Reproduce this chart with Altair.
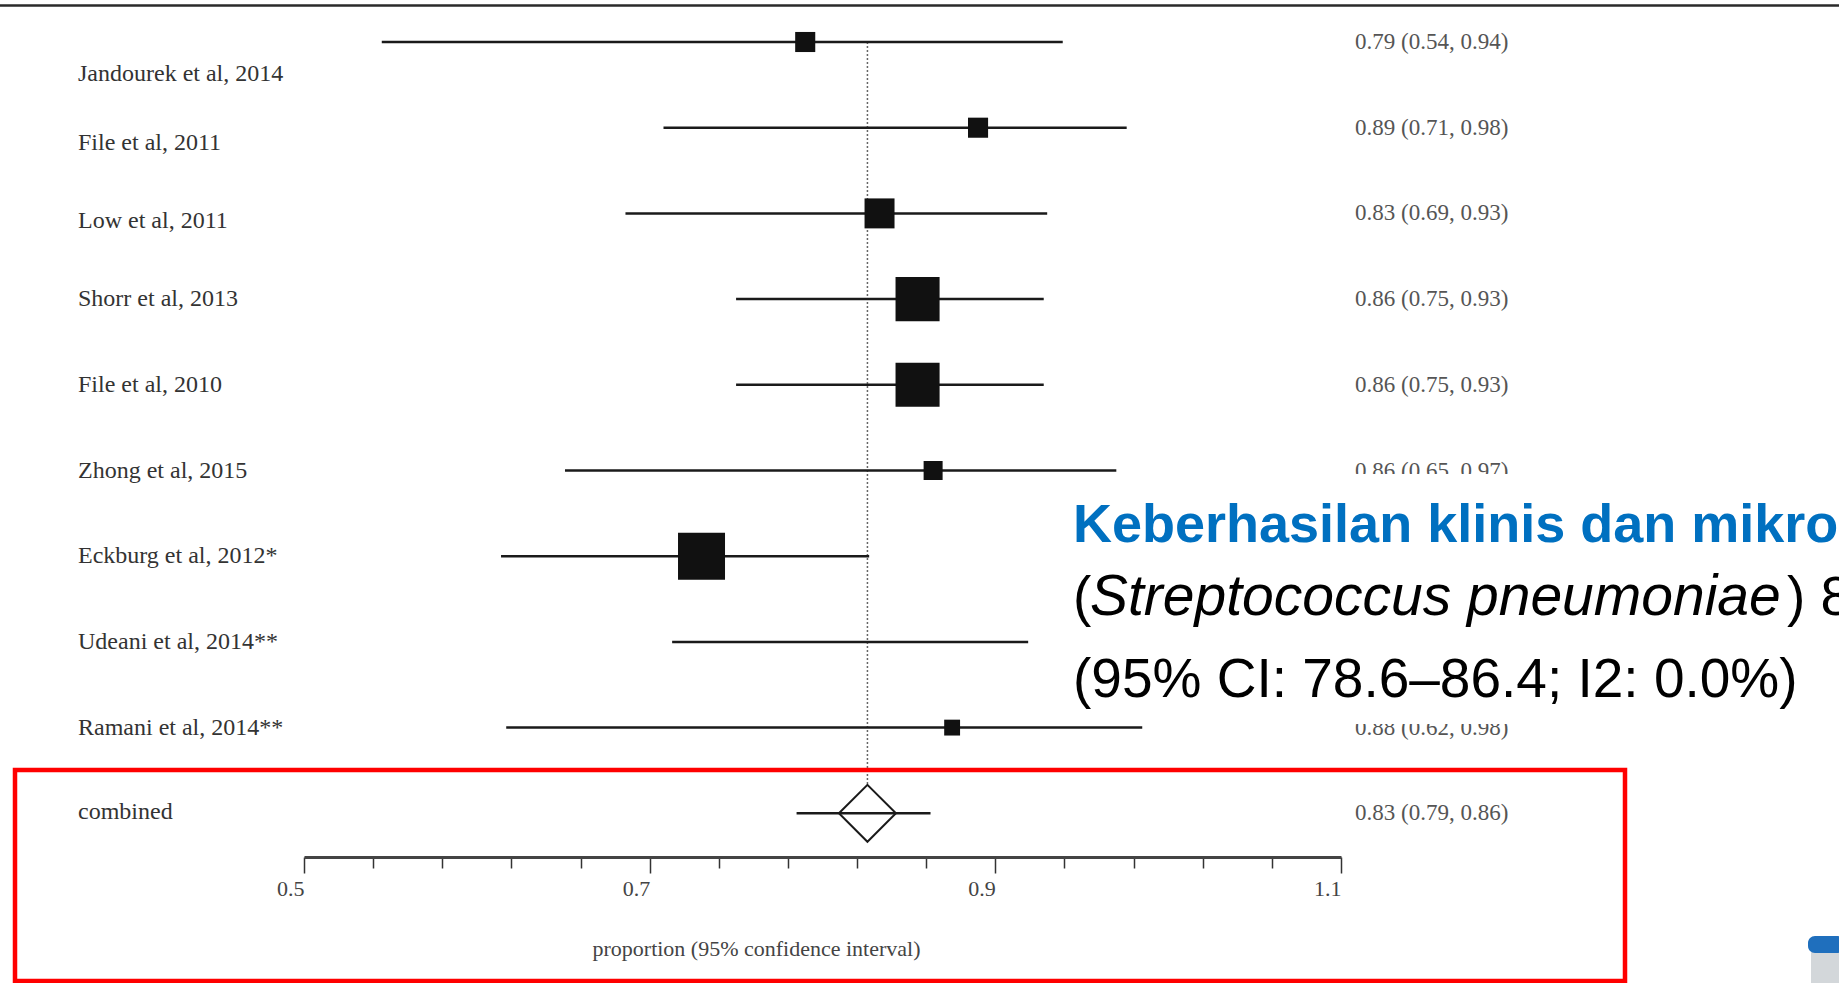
import altair as alt
import pandas as pd

# ---------------- data ----------------
studies = ["Jandourek et al, 2014", "File et al, 2011", "Low et al, 2011",
           "Shorr et al, 2013", "File et al, 2010", "Zhong et al, 2015",
           "Eckburg et al, 2012*", "Udeani et al, 2014**", "Ramani et al, 2014**",
           "combined"]
estimate = [0.79, 0.89, 0.833, 0.855, 0.855, 0.864, 0.73, 0.82, 0.875, 0.826]
ci_low = [0.545, 0.708, 0.686, 0.75, 0.75, 0.651, 0.614, 0.713, 0.617, 0.785]
ci_high = [0.939, 0.976, 0.93, 0.928, 0.928, 0.970, 0.827, 0.919, 0.985, 0.8625]
weight = [4.8, 4.8, 10.7, 23.1, 23.1, 4.3, 26.3, 0.0, 3.0, 0.0]
est_labels = ["0.79 (0.54, 0.94)", "0.89 (0.71, 0.98)", "0.83 (0.69, 0.93)",
              "0.86 (0.75, 0.93)", "0.86 (0.75, 0.93)", "0.86 (0.65, 0.97)",
              "", "", "0.88 (0.62, 0.98)",
              "0.83 (0.79, 0.86)"]
tick_values = [0.5, 0.54, 0.58, 0.62, 0.66, 0.7, 0.74, 0.78, 0.82, 0.86,
               0.9, 0.94, 0.98, 1.02, 1.06, 1.1]
axis_title = "proportion (95% confidence interval)"

title_line1 = "Keberhasilan klinis dan mikrobiologis"
title_line2_open = "("
title_line2_italic = "Streptococcus pneumoniae"
title_line2_close = ") 82.5%"
title_line3 = "(95% CI: 78.6\u201386.4; I2: 0.0%)"

df = pd.DataFrame({
    "i": list(range(len(studies))),
    "study": studies,
    "est": estimate,
    "lo": ci_low,
    "hi": ci_high,
    "w": weight,
    "txt": est_labels,
})
n_rows = len(studies)
combined_row = n_rows - 1

# ---------------- scales / axis ----------------
xs = alt.Scale(domain=[0.5, 1.1], nice=False, zero=False)
ys = alt.Scale(domain=[-0.4901, 9.5099], reverse=True, nice=False, zero=False)
major = "abs(datum.value*10 - round(datum.value*10)) < 0.001"
xax = alt.Axis(
    values=tick_values, format=".1f",
    labelExpr=major + " ? datum.label : ''",
    tickSize={"condition": {"test": major, "value": 16}, "value": 11},
    tickColor="#333", tickWidth=1.5,
    domainColor="#444", domainWidth=3,
    labelFont="Liberation Serif", labelFontSize=22, labelColor="#444",
    labelAlign="right", labelBaseline="top", labelPadding=5,
    labelFlush=False, labelOverlap=False,
    title=axis_title, titleFont="Liberation Serif", titleFontSize=22,
    titleFontWeight="normal", titleColor="#444",
    titleX=452, titleY=91, titleAlign="center", titleBaseline="middle",
    grid=False,
)

base = alt.Chart(df)
one = alt.Chart(pd.DataFrame({"k": [0]}))

top_rule = one.mark_rule(color="#2a2a2a", strokeWidth=2.5).encode(
    x=alt.value(-304), x2=alt.value(1535), y=alt.value(5.5))

dotted = base.transform_filter(f"datum.i == {combined_row}").transform_calculate(
    k0="0").mark_rule(color="#666", strokeWidth=1.5, strokeDash=[2, 2]).encode(
    x=alt.X("est:Q", scale=xs, axis=xax),
    y=alt.Y("k0:Q", scale=ys, axis=None), y2=alt.value(786))

ci = base.mark_rule(color="#1a1a1a", strokeWidth=2.5).encode(
    x=alt.X("lo:Q", scale=xs, axis=xax), x2="hi:Q",
    y=alt.Y("i:Q", scale=ys, axis=None))

squares = base.transform_filter(f"datum.i < {combined_row} && datum.w > 0").mark_square(
    color="#111", opacity=1).encode(
    x=alt.X("est:Q", scale=xs, axis=xax),
    y=alt.Y("i:Q", scale=ys, axis=None),
    size=alt.Size("w:Q", scale=alt.Scale(domain=[0, 100], range=[0, 8400], zero=True),
                  legend=None))

diamond = base.transform_filter(f"datum.i == {combined_row}").mark_point(
    shape="diamond", size=3249, filled=False,
    stroke="#1a1a1a", strokeWidth=2, opacity=1).encode(
    x=alt.X("est:Q", scale=xs, axis=xax),
    y=alt.Y("i:Q", scale=ys, axis=None))

left_labels = base.transform_calculate(
    ly="datum.i + (datum.i == 0 ? 0.37 : datum.i == 1 ? 0.175 : datum.i == 2 ? 0.09 : datum.i == 9 ? -0.02 : 0)"
).mark_text(align="left", baseline="middle", font="Liberation Serif",
            fontSize=24, color="#333").encode(
    x=alt.value(-226), y=alt.Y("ly:Q", scale=ys, axis=None), text="study:N")

right_labels = base.transform_filter("datum.txt != ''").mark_text(
    align="left", baseline="middle", font="Liberation Serif",
    fontSize=23, color="#555").encode(
    x=alt.value(1051), y=alt.Y("i:Q", scale=ys, axis=None), text="txt:N")

white_box = one.mark_rect(color="white", opacity=1).encode(
    x=alt.value(756), x2=alt.value(1540), y=alt.value(474), y2=alt.value(724))

t1 = one.mark_text(align="left", baseline="alphabetic", font="Liberation Sans",
                   fontSize=54, fontWeight="bold", color="#0070C0").encode(
    x=alt.value(769), y=alt.value(542), text=alt.value(title_line1))
t2a = one.mark_text(align="left", baseline="alphabetic", font="Liberation Sans",
                    fontSize=55, color="#000").encode(
    x=alt.value(769), y=alt.value(615), text=alt.value(title_line2_open))
t2b = one.mark_text(align="left", baseline="alphabetic", font="Liberation Sans",
                    fontSize=57, fontStyle="italic", color="#000").encode(
    x=alt.value(786), y=alt.value(615), text=alt.value(title_line2_italic))
t2c = one.mark_text(align="left", baseline="alphabetic", font="Liberation Sans",
                    fontSize=55, color="#000").encode(
    x=alt.value(1483), y=alt.value(615), text=alt.value(title_line2_close))
t3 = one.mark_text(align="left", baseline="alphabetic", font="Liberation Sans",
                   fontSize=55, color="#000").encode(
    x=alt.value(769), y=alt.value(697), text=alt.value(title_line3))

red_box = one.mark_rect(fillOpacity=0, stroke="#ff0000", strokeWidth=4.5).encode(
    x=alt.value(-289), x2=alt.value(1321), y=alt.value(770), y2=alt.value(981))

cap_body = one.mark_rect(color="#d3d7da", cornerRadius=3).encode(
    x=alt.value(1507), x2=alt.value(1540), y=alt.value(950), y2=alt.value(990))
cap_top = one.mark_rect(color="#1f6fbd", cornerRadius=7).encode(
    x=alt.value(1504), x2=alt.value(1540), y=alt.value(936), y2=alt.value(953))

chart = alt.layer(
    top_rule, dotted, ci, squares, diamond, left_labels, right_labels,
    white_box, t1, t2a, t2b, t2c, t3, red_box, cap_body, cap_top,
).properties(
    width=1037, height=857,
    padding={"left": 304, "top": 0, "right": 498, "bottom": 126},
    autosize=alt.AutoSizeParams(type="none"),
    background="white",
).configure_view(stroke=None)

chart.save("out.html", embed_options={"renderer": "svg", "actions": False})
